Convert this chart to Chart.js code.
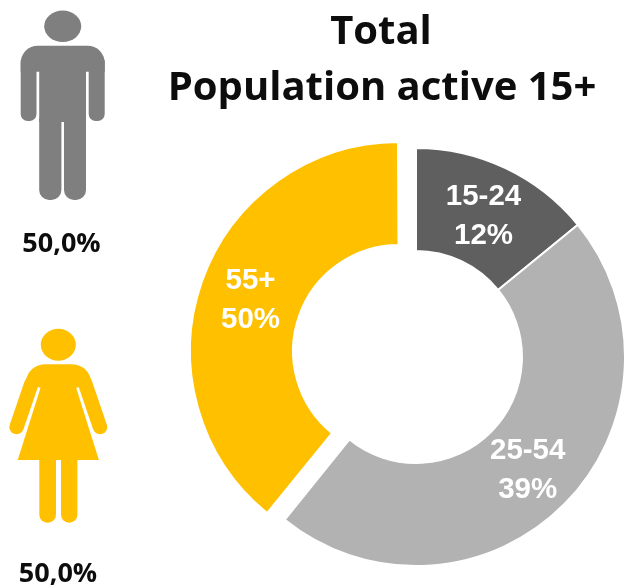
<!DOCTYPE html>
<html><head><meta charset="utf-8">
<script src="https://cdn.jsdelivr.net/npm/chart.js@4"></script>
<style>html,body{margin:0;padding:0;background:#fff;overflow:hidden}#w{position:relative;width:625px;height:585px}</style>
</head><body><div id="w"><canvas id="c" width="625" height="585"></canvas></div>
<script>
const ageGroups = ['15-24', '25-54', '55+'];
const sliceShares = [14.1, 46.7, 39.2];
const shareLabels = ['12%', '39%', '50%'];
const sliceColors = ['#5F5F5F', '#B2B2B2', '#FFC000'];
const sliceOffsets = [0, 0, 72];
const titleLines = ['Total', 'Population active 15+'];
const menShare = '50,0%';
const womenShare = '50,0%';

function rr(ctx, x, y, w, h, r) { ctx.beginPath(); ctx.roundRect(x, y, w, h, r); ctx.fill(); }

function drawMan(ctx) {
  ctx.fillStyle = '#7F7F7F';
  ctx.beginPath(); ctx.ellipse(62.7, 26.3, 18.5, 15.7, 0, 0, 7); ctx.fill();
  rr(ctx, 20.7, 45.7, 84, 26, [17, 17, 0, 0]);
  rr(ctx, 20.7, 60, 15.8, 61, [0, 0, 7, 7]);
  rr(ctx, 88.7, 60, 16, 61, [0, 0, 7, 7]);
  ctx.fillRect(39.2, 60, 46.8, 62);
  rr(ctx, 39.2, 118, 22.2, 82, [0, 0, 10, 10]);
  rr(ctx, 64, 118, 22, 82, [0, 0, 10, 10]);
}

function drawWoman(ctx) {
  const mx = 58.3;
  ctx.fillStyle = '#FFC000'; ctx.strokeStyle = '#FFC000';
  ctx.beginPath(); ctx.ellipse(mx, 344.7, 17.5, 16, 0, 0, 7); ctx.fill();
  ctx.beginPath();
  ctx.moveTo(25, 383); ctx.quadraticCurveTo(29, 364.3, 46, 364.3);
  ctx.lineTo(71, 364.3); ctx.quadraticCurveTo(88, 364.3, 92, 383);
  ctx.lineTo(76, 388); ctx.lineTo(41, 388); ctx.closePath(); ctx.fill();
  ctx.beginPath();
  ctx.moveTo(17.7, 460); ctx.lineTo(40.7, 387.3); ctx.lineTo(76, 387.3); ctx.lineTo(98.9, 460); ctx.closePath(); ctx.fill();
  ctx.lineWidth = 14.5; ctx.lineCap = 'round';
  [[31.3, 16.6], [85.3, 100]].forEach(function (a) {
    ctx.beginPath(); ctx.moveTo(a[0], 384); ctx.lineTo(a[1], 427); ctx.stroke();
  });
  rr(ctx, 39.3, 455, 16.7, 67.7, [0, 0, 8, 8]);
  rr(ctx, 61, 455, 16.4, 67.7, [0, 0, 8, 8]);
}

// Chart.js grows an offset arc's radii by offset/4 * (1 - sin(circumference)); undo that growth.
function radiusGrowth(arc, i) {
  return sliceOffsets[i] / 4 * (1 - Math.sin(Math.min(Math.PI, arc.circumference)));
}

const decor = {
  id: 'decor',
  afterDatasetsUpdate(chart) {
    chart.getDatasetMeta(0).data.forEach(function (arc, i) {
      const g = radiusGrowth(arc, i);
      arc.outerRadius -= g;
      arc.innerRadius -= g;
    });
  },
  afterDatasetsDraw(chart) {
    const ctx = chart.ctx;
    ctx.save();
    drawMan(ctx); drawWoman(ctx);
    ctx.textAlign = 'center'; ctx.textBaseline = 'alphabetic';
    ctx.fillStyle = '#0D0D0D';
    ctx.font = 'bold 40px "Open Sans"';
    ctx.fillText(titleLines[0], 381, 43.5);
    ctx.fillText(titleLines[1], 382, 100);
    ctx.font = 'bold 27px "Open Sans"';
    ctx.fillText(menShare, 61.5, 252);
    ctx.fillText(womenShare, 58, 581.5);
    ctx.fillStyle = '#fff';
    ctx.font = 'bold 29.5px "Liberation Sans"';
    chart.getDatasetMeta(0).data.forEach(function (arc, i) {
      const mid = (arc.startAngle + arc.endAngle) / 2;
      const r = (arc.innerRadius + arc.outerRadius) / 2 + radiusGrowth(arc, i) + sliceOffsets[i] / 4;
      const x = arc.x + Math.cos(mid) * r, y = arc.y + Math.sin(mid) * r;
      ctx.fillText(ageGroups[i], x, y - 9.5);
      ctx.fillText(shareLabels[i], x, y + 29.5);
    });
    ctx.restore();
  }
};

new Chart(document.getElementById('c'), {
  type: 'doughnut',
  data: { labels: ageGroups, datasets: [{ data: sliceShares, backgroundColor: sliceColors, offset: sliceOffsets, borderColor: '#fff', borderWidth: 2 }] },
  options: {
    responsive: false, animation: false, radius: 209, cutout: '50.7%',
    layout: { padding: { left: 207, top: 129, right: 0, bottom: 0 } },
    plugins: { legend: { display: false }, title: { display: false }, tooltip: { enabled: false } }
  },
  plugins: [decor]
});
</script></body></html>
